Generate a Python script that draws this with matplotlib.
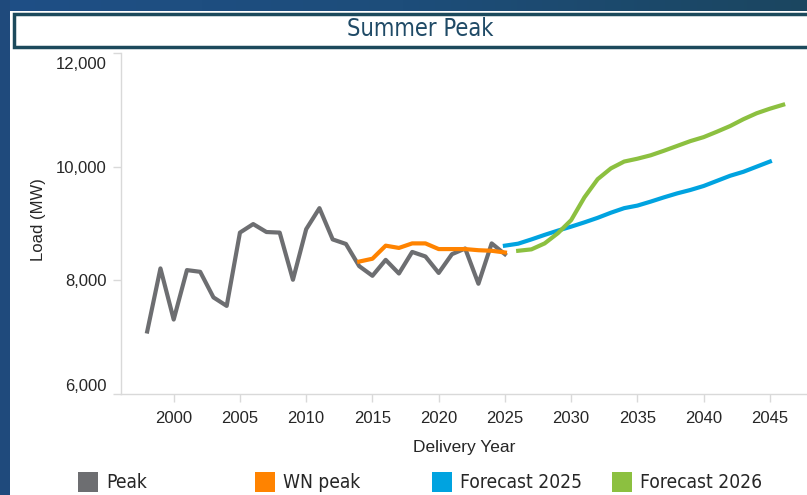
import numpy as np
import matplotlib
matplotlib.use("Agg")
import matplotlib.pyplot as plt
from matplotlib import font_manager as fm
from matplotlib.patches import Rectangle
from matplotlib.colors import LinearSegmentedColormap
import matplotlib.transforms as mtransforms

# data
peak_years = list(range(1998, 2026))
peak = [7100, 8210, 7310, 8180, 8150, 7700, 7550, 8840, 8990, 8850,
        8840, 8010, 8900, 9270, 8720, 8640, 8250, 8080, 8360, 8120,
        8500, 8420, 8130, 8460, 8560, 7940, 8650, 8460]

wn_years = list(range(2014, 2026))
wn_peak = [8330, 8380, 8610, 8570, 8650, 8650, 8550, 8550, 8550, 8530, 8520, 8490]

fc25_years = list(range(2025, 2046))
fc25 = [8610, 8645, 8720, 8800, 8875, 8945, 9020, 9100, 9190, 9270,
        9315, 9385, 9460, 9530, 9590, 9660, 9750, 9840, 9910, 10000, 10090]

fc26_years = list(range(2026, 2047))
fc26 = [8520, 8545, 8650, 8830, 9060, 9460, 9780, 9970, 10090, 10140,
        10200, 10280, 10365, 10450, 10520, 10615, 10715, 10835, 10940, 11020, 11090]

series_names = ["Peak", "WN peak", "Forecast 2025", "Forecast 2026"]
colors = ["#6d6e71", "#ff8300", "#00a3e0", "#8cc040"]

W, H = 807, 495
txt = "#262626"
regular = ["Liberation Sans", "DejaVu Sans"]
plt.rcParams["font.family"] = regular

# condensed face for title / legend (Arial Narrow look)
narrow_file = None
for f in fm.fontManager.ttflist:
    n = (f.name + " " + f.fname).lower()
    if ("narrow" in n or "condensed" in n) and not any(k in n for k in ["bold", "italic", "oblique"]):
        narrow_file = f
        break
if narrow_file is not None:
    narrow = dict(family=narrow_file.name, stretch=narrow_file.stretch)
    title_size, leg_size = 17, 13.8
else:
    narrow = dict(family=regular)
    title_size, leg_size = 16.5, 13.4

fig = plt.figure(figsize=(W / 100, H / 100), dpi=100)
fig.patch.set_facecolor("white")

# dark blue frame
band = fig.add_axes([0, 1 - 11 / H, 1, 11 / H])
grad = np.linspace(0, 1, 256).reshape(1, -1)
cmap = LinearSegmentedColormap.from_list("b", ["#1f4f86", "#1d4d7a", "#1b4660"])
band.imshow(grad, aspect="auto", cmap=cmap)
band.axis("off")
fig.patches.append(Rectangle((0, 0), 10 / W, 1, transform=fig.transFigure,
                             facecolor="#1f4a7c", edgecolor="none", zorder=5))

# title box
fig.patches.append(Rectangle((14 / W, 1 - 47 / H), 1, 33 / H, transform=fig.transFigure,
                             facecolor="white", edgecolor="#1c4a5c", linewidth=2.5, zorder=4))
fig.text(420 / W, 1 - 29 / H, "Summer Peak", fontsize=title_size,
         color="#1f4a66", ha="center", va="center", zorder=6, **narrow)

x0, x1 = 120.7, 807
y_top, y_bot = 53, 394
ax = fig.add_axes([x0 / W, 1 - y_bot / H, (x1 - x0) / W, (y_bot - y_top) / H])
ax.plot(peak_years, peak, color=colors[0], lw=3)
ax.plot(wn_years, wn_peak, color=colors[1], lw=3)
ax.plot(fc25_years, fc25, color=colors[2], lw=3)
ax.plot(fc26_years, fc26, color=colors[3], lw=3)

ax.set_xlim(1996, 2047.8)
ax.set_ylim(6000, 12000)
ax.set_xticks(range(2000, 2046, 5))
ax.set_yticks([6000, 8000, 10000, 12000])
ax.set_yticklabels(["6,000", "8,000", "10,000", "12,000"])
for s in ["top", "right"]:
    ax.spines[s].set_visible(False)
for s in ["left", "bottom"]:
    ax.spines[s].set_color("#d9d9d9")
    ax.spines[s].set_linewidth(1)
ax.tick_params(length=6, width=1, color="#d9d9d9", labelcolor=txt, labelsize=12)
ax.tick_params(axis="y", pad=4)
ax.tick_params(axis="x", pad=6)
ylabs = ax.get_yticklabels()
ylabs[0].set_va("bottom")
ylabs[-1].set_va("top")
ylabs[-1].set_transform(ylabs[-1].get_transform() +
                        mtransforms.ScaledTranslation(0, -4 / 100, fig.dpi_scale_trans))

ax.set_xlabel("Delivery Year", fontsize=12.5, color=txt, labelpad=10)
fig.text(38 / W, 1 - 220 / H, "Load (MW)", fontsize=12, color=txt,
         rotation=90, ha="center", va="center")

# legend row
leg_x = [78, 255, 432, 612]
for lx, name, c in zip(leg_x, series_names, colors):
    fig.patches.append(Rectangle((lx / W, 1 - 492 / H), 20 / W, 20 / H,
                                 transform=fig.transFigure, facecolor=c, edgecolor="none"))
    fig.text((lx + 28) / W, 1 - 482 / H, name, fontsize=leg_size,
             color=txt, ha="left", va="center", **narrow)

fig.savefig("out.png", dpi=100)
